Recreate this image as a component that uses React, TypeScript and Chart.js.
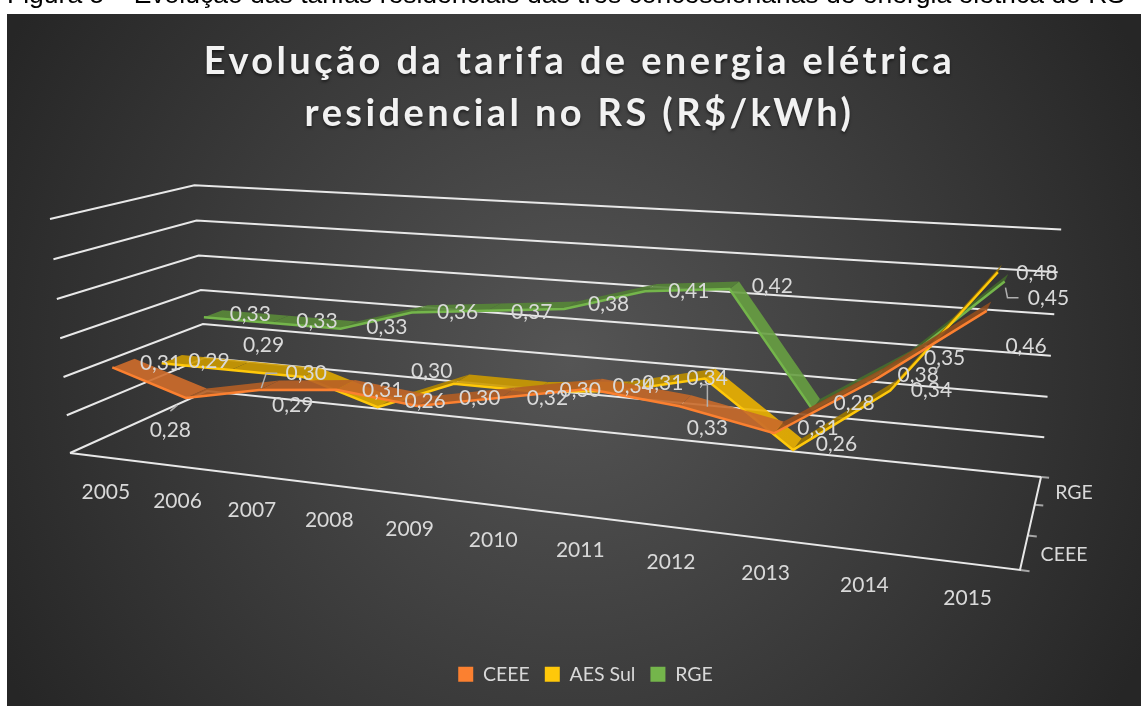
import React, { useEffect, useRef } from "react";
import { Chart, registerables } from "chart.js";
Chart.register(...registerables);

const CATEGORIES = ["2005","2006","2007","2008","2009","2010","2011","2012","2013","2014","2015"];
const CEEE = [0.31,0.28,0.30,0.31,0.30,0.32,0.34,0.33,0.31,0.38,0.46];
const AES_SUL = [0.29,0.29,0.29,0.26,0.30,0.30,0.31,0.335,0.26,0.34,0.48];
const RGE = [0.33,0.33,0.33,0.36,0.37,0.38,0.41,0.42,0.28,0.35,0.45];
const SERIES_NAMES = ["CEEE","AES Sul","RGE"];
const VALUE_TICKS = [0.2,0.25,0.3,0.35,0.4,0.45,0.5];

// label placement, relative to the projected data point
const CEEE_LABEL_OFFSETS = [[37,0],[-26,37],[37,-12],[37,5],[54,-3],[39,6],[38,3],[22,27],[39,1],[38,2],[37,40]];
const AES_LABEL_OFFSETS = [[37,2],[23,-20],[-19,33],[39,-1],[-30,-8],[39,4],[39,-3],[-3,5],[39,0],[38,5],[37,5]];
const RGE_LABEL_OFFSETS = [[37,0],[37,2],[38,2],[38,3],[38,5],[38,-1],[38,4],[38,1],[38,-1],[37,3],[42,21]];
const LABEL_OFFSETS = [CEEE_LABEL_OFFSETS,AES_LABEL_OFFSETS,RGE_LABEL_OFFSETS];
// leader lines relative to the label centre: [series, category, polyline]
const LEADERS:[number,number,number[][]][] = [
  [0,1,[[0,-19],[7,-25]]],
  [0,2,[[-45,15],[-40,0],[-29,0]]],
  [0,7,[[0,-21],[0,-43],[-7,-43]]],
  [2,10,[[-43,-11],[-41,-1],[-30,-1]]],
  [2,9,[[-5,7],[-10,14]]],
];

const A=[70,453],B=[1020,570],C=[1041,477],D=[207,391];
const sx=A[0]-B[0]+C[0]-D[0], sy=A[1]-B[1]+C[1]-D[1];
const dx1=B[0]-C[0], dx2=D[0]-C[0], dy1=B[1]-C[1], dy2=D[1]-C[1];
const den=dx1*dy2-dx2*dy1;
const g=(sx*dy2-dx2*sy)/den, h=(dx1*sy-sx*dy1)/den;
const a=B[0]-A[0]+g*B[0], b=D[0]-A[0]+h*D[0], c=A[0];
const d=B[1]-A[1]+g*B[1], e=D[1]-A[1]+h*D[1], f=A[1];
const VP=[568,6276], k=-234/(6276-219);
const project=(u:number,v:number,w:number)=>{
  const W=g*u+h*v+1+k*w;
  return {x:(a*u+b*v+c+k*VP[0]*w)/W,y:(d*u+e*v+f+k*VP[1]*w)/W};
};
const AXIS_MIN=0.2, AXIS_MAX=0.5, HALF=0.075;
const wOf=(val:number)=>(val-AXIS_MIN)/(AXIS_MAX-AXIS_MIN);
const uOf=(i:number)=>(i+0.5)/CATEGORIES.length;
const vOf=(s:number)=>(s+0.5)/SERIES_NAMES.length;
const SERIES=[CEEE,AES_SUL,RGE];
const COLORS=[[237,125,49],[255,192,0],[112,173,71]];
const EDGE=["#fb8030","#ffc80a","#74b54b"];

function buildDatasets(){
  const ds:any[]=[];
  const base={type:"scatter",showLine:true,pointRadius:0,clip:false,tension:0};
  SERIES.forEach((vals,s)=>{
    const v=vOf(s);
    ds.push({...base,label:SERIES_NAMES[s],borderColor:EDGE[s],borderWidth:2.5,fill:false,
      data:vals.map((y,i)=>project(uOf(i),v-HALF,wOf(y)))});
    for(let i=0;i<vals.length-1;i++){
      const dw=vals[i+1]-vals[i];
      const m=Math.max(0.6,Math.min(0.92,0.8-2.4*dw));
      const col=COLORS[s].map(q=>Math.round(q*m));
      const w0=wOf(vals[i]),w1=wOf(vals[i+1]),u0=uOf(i),u1=uOf(i+1);
      ds.push({...base,label:SERIES_NAMES[s]+" "+CATEGORIES[i],borderWidth:0,fill:"shape",
        backgroundColor:`rgba(${col.join(",")},0.9)`,borderColor:"rgba(0,0,0,0)",
        data:[project(u0,v-HALF,w0),project(u1,v-HALF,w1),project(u1,v+HALF,w1),project(u0,v+HALF,w0),project(u0,v-HALF,w0)]});
    }
  });
  const gridStyle={...base,borderColor:"#e8e8e8",borderWidth:2,fill:false};
  VALUE_TICKS.forEach(t=>{
    const w=wOf(t);
    ds.push({...gridStyle,label:"grid "+t,data:[project(0,0,w),project(0,1,w),project(1,1,w)]});
  });
  ds.push({...gridStyle,label:"floor",data:[project(0,0,0),project(1,0,0),project(1,1,0)]});
  for(let j=0;j<=SERIES_NAMES.length;j++){
    const v=j/SERIES_NAMES.length;
    ds.push({...base,label:"tick "+j,borderColor:"#a6a6a6",borderWidth:2,fill:false,data:[project(1,v,0),project(1.008,v,0)]});
  }
  return ds;
}

const bg={id:"bg",beforeDraw(ch:any){
  const x=ch.ctx;
  x.save();
  x.fillStyle="#fff";x.fillRect(0,0,1141,706);
  const gr=x.createRadialGradient(570,360,0,570,360,645);
  gr.addColorStop(0,"#555555");gr.addColorStop(1,"#262626");
  x.fillStyle=gr;x.fillRect(7,14,1134,692);
  x.fillStyle="#000";x.font="26.5px 'Liberation Sans'";x.textAlign="left";x.textBaseline="alphabetic";
  x.fillText("Figura 5 – Evolução das tarifas residenciais das três concessionárias de energia elétrica do RS",7,3);
  x.restore();
}};
const remap={id:"remap",afterLayout(ch:any){
  const {left,right,top,bottom}=ch.chartArea;
  const sxx=ch.scales.x,syy=ch.scales.y;
  sxx.min=left;sxx.max=right;sxx.configure();
  syy.min=top;syy.max=bottom;syy.configure();
  const t=ch.titleBlock;
  if(t&&!t.__w){t.__w=true;const dr=t.draw.bind(t);t.draw=()=>{const x=ch.ctx;x.save();x.translate(-6,0);x.letterSpacing="3.4px";
    x.shadowColor="rgba(0,0,0,0.5)";x.shadowBlur=3;x.shadowOffsetY=2;dr();x.restore();};}
}};
const texts={id:"texts",afterDatasetsDraw(ch:any){
  const x=ch.ctx,sX=ch.scales.x,sY=ch.scales.y;
  const px=(p:any)=>({x:sX.getPixelForValue(p.x),y:sY.getPixelForValue(p.y)});
  x.save();x.font="21px Lato";x.fillStyle="#d9d9d9";x.textAlign="center";x.textBaseline="middle";
  const put=(s:string,p:any,dx=0,dy=0)=>{const q=px(p);x.fillText(s,q.x+dx,q.y+dy);};
  CATEGORIES.forEach((cat,i)=>put(cat,project(uOf(i),0,0),1,35));
  SERIES.forEach((vals,s)=>vals.forEach((val,i)=>{
    const o=LABEL_OFFSETS[s][i];
    put(val.toFixed(2).replace(".",","),project(uOf(i),vOf(s),wOf(val)),o[0],o[1]);
  }));
  x.strokeStyle="#b0b0b0";x.lineWidth=1.5;
  LEADERS.forEach(([s,i,poly])=>{
    const q=px(project(uOf(i),vOf(s),wOf(SERIES[s][i]))),o=LABEL_OFFSETS[s][i];
    x.beginPath();
    poly.forEach((pt,j)=>{const X=q.x+o[0]+pt[0],Y=q.y+o[1]+pt[1];j?x.lineTo(X,Y):x.moveTo(X,Y);});
    x.stroke();
  });
  x.font="19.5px Lato";
  put(SERIES_NAMES[2],project(1,vOf(2),0),36,2);
  put(SERIES_NAMES[0],project(1,vOf(0),0),40,2);
  x.restore();
}};

export default function App(){
  const ref=useRef<HTMLCanvasElement>(null);
  useEffect(()=>{
    const chart=new Chart(ref.current!,{
      type:"scatter",
      data:{datasets:buildDatasets()},
      plugins:[bg,remap,texts],
      options:{
        responsive:false,animation:false,
        layout:{padding:{left:30,right:0,top:35,bottom:12}},
        scales:{x:{type:"linear",display:false},y:{type:"linear",display:false,reverse:true}},
        plugins:{
          tooltip:{enabled:false},
          title:{display:true,text:["Evolução da tarifa de energia elétrica","residencial no RS (R$/kWh)"],color:"#f2f2f2",
            font:{family:"Lato",size:38,weight:"bold",lineHeight:1.39},padding:{top:0,bottom:10}},
          legend:{position:"bottom",labels:{color:"#d9d9d9",boxWidth:15,boxHeight:15,padding:15,font:{family:"Lato",size:19.5},
            generateLabels:()=>SERIES_NAMES.map((n,i)=>({text:n,fillStyle:EDGE[i],strokeStyle:EDGE[i],lineWidth:0,hidden:false,datasetIndex:0,fontColor:"#d9d9d9"}))}}
        }
      }
    } as any);
    return ()=>chart.destroy();
  },[]);
  return <div style={{position:"absolute",left:0,top:0,width:1141,height:706}}><canvas ref={ref} width={1141} height={706} style={{display:"block"}}/></div>;
}
